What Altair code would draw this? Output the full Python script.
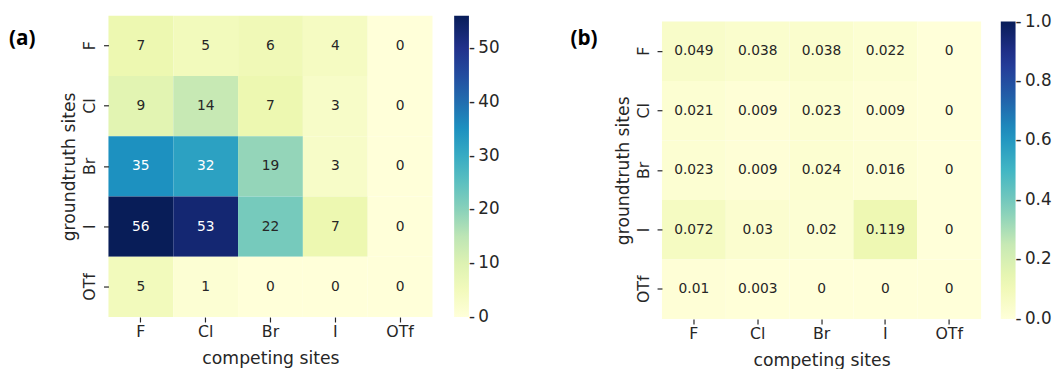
import altair as alt
import pandas as pd

sites = ["F", "Cl", "Br", "I", "OTf"]
counts = [
    [7, 5, 6, 4, 0],
    [9, 14, 7, 3, 0],
    [35, 32, 19, 3, 0],
    [56, 53, 22, 7, 0],
    [5, 1, 0, 0, 0],
]
fractions = [
    [0.049, 0.038, 0.038, 0.022, 0],
    [0.021, 0.009, 0.023, 0.009, 0],
    [0.023, 0.009, 0.024, 0.016, 0],
    [0.072, 0.03, 0.02, 0.119, 0],
    [0.01, 0.003, 0, 0, 0],
]
count_domain = [0, 56]
count_ticks = [0.01, 10, 20, 30, 40, 50]
frac_domain = [0, 1]
frac_ticks = [0.001, 0.2, 0.4, 0.6, 0.8, 0.999]
panel_labels = ["(a)", "(b)"]
x_title = "competing sites"
y_title = "groundtruth sites"

# matplotlib / ColorBrewer YlGnBu (9 classes)
ylgnbu = ["#ffffd9", "#edf8b1", "#c7e9b4", "#7fcdbb", "#41b6c4",
          "#1d91c0", "#225ea8", "#253494", "#081d58"]

INK = "#262626"
FONT = "DejaVu Sans"


def table(matrix):
    rows = []
    for i, g in enumerate(sites):
        for j, c in enumerate(sites):
            v = matrix[i][j]
            rows.append({"gt": g, "comp": c, "v": v, "label": f"{v:g}"})
    return pd.DataFrame(rows)


def cscale(domain):
    lo, hi = domain
    n = len(ylgnbu) - 1
    stops = [lo + (hi - lo) * k / n for k in range(n + 1)]
    return alt.Scale(domain=stops, range=ylgnbu, interpolate="rgb")


def panel(matrix, domain, ticks, fmt, label, w, h, yrange, legx, legy, leglen,
          label_x, label_y, ann_size, white_above):
    df = table(matrix)
    xenc = alt.X(
        "comp:N", sort=sites, title=x_title,
        axis=alt.Axis(labelAngle=0, domain=False, ticks=True, tickSize=5,
                      tickWidth=1.2, tickColor=INK, labelFont=FONT,
                      labelFontSize=16, labelColor=INK, labelPadding=2,
                      titleFont=FONT, titleFontSize=17.5, titleFontWeight="normal",
                      titleColor=INK, titlePadding=10, grid=False),
        scale=alt.Scale(paddingInner=0, paddingOuter=0),
    )
    if yrange is not None:
        yscale = alt.Scale(paddingInner=0, paddingOuter=0, range=yrange)
    else:
        yscale = alt.Scale(paddingInner=0, paddingOuter=0)
    yenc = alt.Y(
        "gt:N", sort=sites, title=y_title, scale=yscale,
        axis=alt.Axis(labelAngle=-90, labelAlign="center", labelBaseline="bottom",
                      domain=False, ticks=True, tickSize=5, tickWidth=1.2,
                      tickColor=INK, labelFont=FONT, labelFontSize=16,
                      labelColor=INK, labelPadding=6, titleFont=FONT,
                      titleFontSize=17.5, titleFontWeight="normal",
                      titleColor=INK, titlePadding=3, grid=False),
    )
    heat = alt.Chart(df).mark_rect().encode(
        x=xenc, y=yenc,
        color=alt.Color(
            "v:Q", scale=cscale(domain),
            legend=alt.Legend(
                type="gradient",
                title=None, orient="none", legendX=legx, legendY=legy,
                direction="vertical", gradientLength=leglen,
                gradientThickness=15, gradientStrokeWidth=0,
                values=ticks, format=fmt,
                labelExpr="'-\u2009' + datum.label",
                labelFont=FONT, labelFontSize=17, labelColor=INK,
                labelOffset=0,
            ),
        ),
    )
    text = alt.Chart(df).mark_text(font=FONT, fontSize=ann_size).encode(
        x=alt.X("comp:N", sort=sites),
        y=alt.Y("gt:N", sort=sites),
        text="label:N",
        color=alt.condition(alt.datum.v > white_above, alt.value("white"),
                            alt.value(INK)),
    )
    tag = alt.Chart(pd.DataFrame({"t": [label]})).mark_text(
        font="Open Sans", fontSize=21, fontWeight="bold", align="left",
        baseline="middle", color="black",
    ).encode(text="t:N", x=alt.value(label_x), y=alt.value(label_y))
    return alt.layer(heat, text, tag).properties(width=w, height=h)


left = panel(counts, count_domain, count_ticks, "d", panel_labels[0],
             329, 306, None, 351, 0, 306, -101, 23.5, 14, 25)
right = panel(fractions, frac_domain, frac_ticks, ".1f", panel_labels[1],
              324, 308, [6, 308], 344, 6, 302, -93, 23.5, 14, 0.5)

chart = alt.hconcat(left, right, spacing=71).resolve_scale(
    color="independent"
).resolve_legend(color="independent").properties(
    padding={"left": 1, "top": 5, "right": 0, "bottom": 2}
).configure_view(stroke=None)

chart.save("out.html", embed_options={"renderer": "svg", "actions": False})
